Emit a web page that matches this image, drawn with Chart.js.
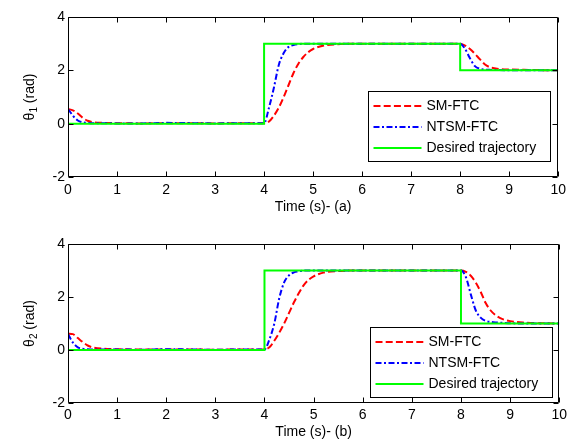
<!DOCTYPE html>
<html>
<head>
<meta charset="utf-8">
<script src="https://cdn.jsdelivr.net/npm/chart.js@4/dist/chart.umd.min.js"></script>
<style>
  html, body { margin: 0; padding: 0; background: #fff; }
  #wrap { position: relative; width: 571px; height: 442px; }
  .panel { position: absolute; left: 0; width: 571px; height: 221px; }
</style>
</head>
<body>
<div id="wrap">
  <div class="panel" style="top:0"><canvas id="c1" width="571" height="221"></canvas></div>
  <div class="panel" style="top:221px"><canvas id="c2" width="571" height="221"></canvas></div>
</div>
<script>
// Sample times (s) for the controller responses
const time = [0, 0.1, 0.2, 0.3, 0.4, 0.5, 0.7, 1.0, 1.5, 2.0, 2.5, 3.0, 3.5, 4.0,
              4.1, 4.2, 4.3, 4.4, 4.5, 4.6, 4.7, 4.8, 4.9, 5.0, 5.2, 5.5, 6.0, 7.0, 8.0,
              8.1, 8.2, 8.3, 8.4, 8.5, 8.6, 8.7, 8.8, 9.0, 9.3, 9.6, 10];

// Joint 1 (rad)
const sm1   = [0.55, 0.50, 0.38, 0.22, 0.11, 0.06, 0.03, 0.02, 0.01, 0.02, 0.02, 0.01, 0.02, 0.02,
               0.08, 0.30, 0.60, 1.00, 1.45, 1.90, 2.25, 2.50, 2.68, 2.80, 2.92, 2.98, 3.00, 3.00, 3.00,
               2.93, 2.80, 2.62, 2.42, 2.23, 2.12, 2.08, 2.05, 2.03, 2.02, 2.01, 2.00];
const ntsm1 = [0.55, 0.30, 0.12, 0.05, 0.03, 0.02, 0.02, 0.01, 0.01, 0.03, 0.02, 0.01, 0.02, 0.02,
               0.60, 1.35, 2.20, 2.65, 2.88, 2.95, 2.98, 3.00, 3.00, 3.00, 3.00, 3.00, 3.00, 3.00, 3.00,
               2.80, 2.45, 2.16, 2.06, 2.03, 2.02, 2.01, 2.01, 2.00, 2.00, 2.00, 2.00];

// Joint 2 (rad)
const sm2   = [0.62, 0.60, 0.45, 0.30, 0.17, 0.10, 0.05, 0.03, 0.02, 0.02, 0.02, 0.01, 0.02, 0.02,
               0.10, 0.35, 0.65, 1.00, 1.40, 1.80, 2.15, 2.45, 2.65, 2.78, 2.92, 2.98, 3.00, 3.00, 3.00,
               2.95, 2.80, 2.55, 2.20, 1.78, 1.50, 1.32, 1.20, 1.09, 1.03, 1.01, 1.00];
const ntsm2 = [0.60, 0.28, 0.10, 0.05, 0.03, 0.02, 0.02, 0.02, 0.01, 0.03, 0.02, 0.01, 0.02, 0.02,
               0.40, 1.00, 1.95, 2.55, 2.82, 2.93, 2.97, 3.00, 3.00, 3.00, 3.00, 3.00, 3.00, 3.00, 3.00,
               2.75, 2.10, 1.50, 1.22, 1.10, 1.06, 1.04, 1.03, 1.01, 1.00, 1.00, 1.00];

// Reference (desired) trajectories: steps at t = 4 s and t = 8 s
const desiredTime = [0, 4, 4, 8, 8, 10];
const desired1    = [0, 0, 3, 3, 2, 2];
const desired2    = [0, 0, 3, 3, 1, 1];

const seriesNames = ['SM-FTC', 'NTSM-FTC', 'Desired trajectory'];
const xTicks = [0, 1, 2, 3, 4, 5, 6, 7, 8, 9, 10];
const yTicks = [-2, 0, 2, 4];

const FONT = 'Liberation Sans, Arial, Helvetica, sans-serif';
const RED = '#ff0000', BLUE = '#0000ff', GREEN = '#00ff00';
const DASH_SM = [7, 3.2];
const DASH_NTSM = [6, 2.5, 2, 2.5];

const pts = (xs, ys) => xs.map((x, i) => ({ x, y: ys[i] }));

// Box frame with MATLAB-style inward tick marks on all four sides
const framePlugin = {
  id: 'frame',
  afterDatasetsDraw(chart) {
    const { ctx, chartArea: a, scales: { x, y } } = chart;
    const L = Math.round(a.left) + 0.5, R = Math.round(a.right) - 0.5;
    const T = Math.round(a.top) + 0.5, B = Math.round(a.bottom) - 0.5;
    ctx.save();
    ctx.strokeStyle = '#000';
    ctx.lineWidth = 1;
    ctx.beginPath();
    ctx.rect(L, T, R - L, B - T);
    x.ticks.forEach(t => {
      const px = Math.round(x.getPixelForValue(t.value)) + 0.5;
      ctx.moveTo(px, B); ctx.lineTo(px, B - 5);
      ctx.moveTo(px, T); ctx.lineTo(px, T + 5);
    });
    y.ticks.forEach(t => {
      const py = Math.round(y.getPixelForValue(t.value)) + 0.5;
      ctx.moveTo(L, py); ctx.lineTo(L + 5, py);
      ctx.moveTo(R, py); ctx.lineTo(R - 5, py);
    });
    ctx.stroke();
    ctx.restore();
  }
};

// Legend box drawn inside the plot area, lower right
const boxLegendPlugin = {
  id: 'boxLegend',
  afterDraw(chart, args, opts) {
    const { ctx, chartArea: a } = chart;
    const w = 182, h = 70;
    const right = Math.round(a.right - opts.right) + 0.5;
    const bottom = Math.round(a.bottom - opts.bottom) + 0.5;
    const left = right - w, top = bottom - h;
    ctx.save();
    ctx.fillStyle = '#fff';
    ctx.fillRect(left, top, w, h);
    ctx.strokeStyle = '#000';
    ctx.lineWidth = 1;
    ctx.strokeRect(left, top, w, h);
    const entries = [
      { label: seriesNames[0], color: RED, dash: DASH_SM },
      { label: seriesNames[1], color: BLUE, dash: DASH_NTSM },
      { label: seriesNames[2], color: GREEN, dash: [] }
    ];
    ctx.font = '14px ' + FONT;
    ctx.textBaseline = 'middle';
    ctx.textAlign = 'left';
    entries.forEach((e, i) => {
      const yy = top + 14.5 + i * 21;
      ctx.strokeStyle = e.color;
      ctx.lineWidth = 2;
      ctx.setLineDash(e.dash);
      ctx.beginPath();
      ctx.moveTo(left + 5, yy);
      ctx.lineTo(left + 53, yy);
      ctx.stroke();
      ctx.setLineDash([]);
      ctx.fillStyle = '#000';
      ctx.fillText(e.label, left + 58, yy + 0.5);
    });
    ctx.restore();
  }
};

// Rotated y-axis title with a subscripted joint index
const yTitlePlugin = {
  id: 'yTitle',
  afterDraw(chart, args, opts) {
    const { ctx, chartArea: a } = chart;
    ctx.save();
    const cx = opts.x, cy = (a.top + a.bottom) / 2;
    ctx.translate(cx, cy);
    ctx.rotate(-Math.PI / 2);
    ctx.fillStyle = '#000';
    ctx.textBaseline = 'middle';
    ctx.textAlign = 'left';
    const big = '14px ' + FONT, small = '10px ' + FONT;
    ctx.font = big;
    const w1 = ctx.measureText('\u03b8').width;
    const w3 = ctx.measureText(' (rad)').width;
    ctx.font = small;
    const w2 = ctx.measureText(opts.sub).width;
    let x0 = -(w1 + w2 + w3) / 2;
    ctx.font = big;
    ctx.fillText('\u03b8', x0, 0);
    ctx.font = small;
    ctx.fillText(opts.sub, x0 + w1, 4);
    ctx.font = big;
    ctx.fillText(' (rad)', x0 + w1 + w2, 0);
    ctx.restore();
  }
};

function makeChart(id, sm, ntsm, desired, cfg) {
  return new Chart(document.getElementById(id), {
    type: 'line',
    data: {
      datasets: [
        { label: seriesNames[2], data: pts(desiredTime, desired), borderColor: GREEN,
          borderWidth: 2, pointRadius: 0, tension: 0 },
        { label: seriesNames[1], data: pts(time, ntsm), borderColor: BLUE, borderDash: DASH_NTSM,
          borderWidth: 2, pointRadius: 0, cubicInterpolationMode: 'monotone' },
        { label: seriesNames[0], data: pts(time, sm), borderColor: RED, borderDash: DASH_SM,
          borderWidth: 2, pointRadius: 0, cubicInterpolationMode: 'monotone' }
      ]
    },
    options: {
      responsive: false,
      animation: false,
      events: [],
      layout: { padding: { top: cfg.padTop, right: 9, left: 0, bottom: 0 } },
      plugins: {
        legend: { display: false },
        tooltip: { enabled: false },
        boxLegend: { right: cfg.legRight, bottom: cfg.legBottom },
        yTitle: { x: 30, sub: cfg.sub }
      },
      scales: {
        x: {
          type: 'linear', min: 0, max: 10,
          afterBuildTicks: s => { s.ticks = xTicks.map(v => ({ value: v })); },
          afterFit: s => { s.height = cfg.xHeight; },
          grid: { display: false, drawTicks: false },
          border: { display: false },
          ticks: { color: '#000', font: { family: FONT, size: 14 }, padding: cfg.xTickPad, maxRotation: 0 },
          title: { display: true, text: cfg.xTitle, color: '#000',
                   font: { family: FONT, size: 14 }, padding: { top: 0, bottom: cfg.titlePad } }
        },
        y: {
          type: 'linear', min: -2, max: 4,
          afterBuildTicks: s => { s.ticks = yTicks.map(v => ({ value: v })); },
          afterFit: s => { s.width = 68; },
          grid: { display: false, drawTicks: false },
          border: { display: false },
          ticks: { color: '#000', font: { family: FONT, size: 14 }, padding: 3 }
        }
      }
    },
    plugins: [framePlugin, boxLegendPlugin, yTitlePlugin]
  });
}

makeChart('c1', sm1, ntsm1, desired1, {
  padTop: 17, xHeight: 44, xTickPad: 5, titlePad: 5, xTitle: 'Time (s)- (a)',
  legRight: 8, legBottom: 16, sub: '1'
});
makeChart('c2', sm2, ntsm2, desired2, {
  padTop: 23, xHeight: 39, xTickPad: 4, titlePad: 1, xTitle: 'Time (s)- (b)',
  legRight: 7, legBottom: 6, sub: '2'
});
</script>
</body>
</html>
